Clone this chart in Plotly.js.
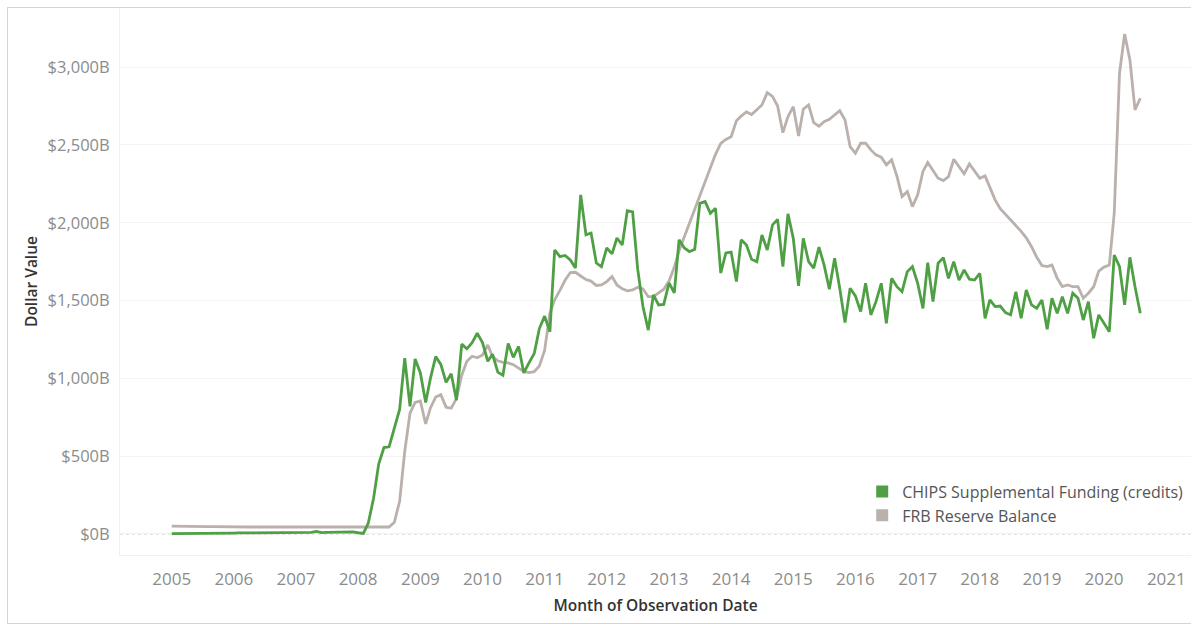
<!DOCTYPE html>
<html>
<head>
<meta charset="utf-8">
<script src="https://cdn.plot.ly/plotly-3.0.1.min.js"></script>
<style>
  html, body { margin: 0; padding: 0; background: #ffffff; }
  #wrap { position: relative; width: 1191px; height: 624px; overflow: hidden; }
  #chart { position: absolute; left: 0; top: 0; width: 1191px; height: 624px; }
  #frame { position: absolute; left: 7px; top: 7px; width: 1200px; height: 615px;
           border: 1px solid #d4d4d4; pointer-events: none; }
</style>
</head>
<body>
<div id="wrap">
  <div id="chart"></div>
  <div id="frame"></div>
</div>
<script>
// Series start month and monthly values (billions of dollars), Jan 2005 .. Aug 2020
const startYear = 2005;
const startMonth = 1;

const seriesNames = ["CHIPS Supplemental Funding (credits)", "FRB Reserve Balance"];
const seriesColors = ["#4fa044", "#bab0ac"];

const chipsCredits = [
  2,2,3,3,3,4,4,4,5,5,5,6,
  6,7,7,6,6,6,7,7,7,8,8,8,
  8,9,9,10,17,9,10,11,12,14,15,13,
  8,4,70,230,450,555,560,680,800,1130,820,1125,
  1035,845,1000,1140,1090,975,1030,860,1220,1190,1230,1290,
  1230,1110,1155,1040,1020,1225,1135,1205,1035,1100,1160,1320,
  1400,1300,1825,1782,1790,1761,1710,2179,1922,1934,1741,1718,
  1838,1800,1902,1857,2078,2070,1700,1460,1310,1536,1472,1475,
  1613,1549,1890,1838,1814,1830,2125,2136,2061,2093,1677,1806,
  1812,1622,1890,1857,1765,1750,1922,1825,1986,2022,1718,2057,
  1900,1594,1900,1750,1708,1843,1729,1573,1772,1579,1358,1579,
  1530,1429,1611,1408,1493,1611,1354,1643,1589,1557,1686,1718,
  1611,1450,1744,1493,1740,1776,1643,1750,1632,1697,1637,1632,
  1675,1386,1504,1461,1465,1422,1408,1557,1386,1568,1472,1450,
  1504,1316,1515,1418,1525,1418,1547,1515,1375,1493,1258,1408,
  1354,1300,1793,1718,1472,1778,1589,1418
];

const frbReserve = [
  50,49,49,48,48,48,47,47,47,46,46,46,
  46,46,45,45,45,45,44,44,45,45,44,44,
  44,43,43,44,44,44,43,43,43,44,44,44,
  44,44,44,44,45,45,45,75,210,530,776,845,
  855,707,810,880,895,815,808,870,1020,1110,1142,1132,
  1150,1215,1140,1113,1103,1099,1088,1066,1045,1037,1043,1080,
  1180,1420,1505,1565,1630,1680,1682,1658,1635,1625,1597,1600,
  1622,1655,1600,1575,1562,1568,1585,1575,1525,1525,1547,1573,
  1625,1715,1820,1910,1990,2080,2170,2260,2350,2440,2510,2535,
  2553,2655,2685,2712,2695,2725,2757,2836,2812,2750,2579,2682,
  2746,2558,2730,2757,2644,2620,2650,2665,2693,2720,2661,2489,
  2447,2511,2511,2468,2436,2421,2372,2404,2300,2168,2200,2104,
  2179,2330,2387,2339,2286,2271,2296,2408,2361,2314,2378,2329,
  2286,2301,2222,2147,2090,2055,2020,1985,1945,1903,1846,1780,
  1725,1718,1728,1643,1590,1600,1589,1589,1515,1547,1589,1690,
  1715,1728,2061,2961,3213,3046,2725,2800
];

const yTickVals = [0, 500, 1000, 1500, 2000, 2500, 3000];
const yTickText = ["$0B", "$500B", "$1,000B", "$1,500B", "$2,000B", "$2,500B", "$3,000B"];

function monthDates(n) {
  const out = [];
  for (let i = 0; i < n; i++) {
    const y = startYear + Math.floor((startMonth - 1 + i) / 12);
    const m = ((startMonth - 1 + i) % 12) + 1;
    out.push(y + "-" + String(m).padStart(2, "0") + "-01");
  }
  return out;
}

const dates = monthDates(chipsCredits.length);
const FONT = "Open Sans, Noto Sans, sans-serif";

const traces = [
  { type: "scatter", mode: "lines", x: dates, y: frbReserve, name: seriesNames[1],
    line: { color: seriesColors[1], width: 2.8 }, showlegend: false, legendgroup: "frb",
    hovertemplate: "%{x|%b %Y}: $%{y:,}B<extra></extra>" },
  { type: "scatter", mode: "lines", x: dates, y: chipsCredits, name: seriesNames[0],
    line: { color: seriesColors[0], width: 2.8 }, showlegend: false, legendgroup: "chips",
    hovertemplate: "%{x|%b %Y}: $%{y:,}B<extra></extra>" },
  // legend swatches (square keys as in the original)
  { type: "bar", x: [null], y: [null], name: seriesNames[0], marker: { color: seriesColors[0] },
    showlegend: true, legendgroup: "chips", hoverinfo: "skip" },
  { type: "bar", x: [null], y: [null], name: seriesNames[1], marker: { color: seriesColors[1] },
    showlegend: true, legendgroup: "frb", hoverinfo: "skip" }
];

const layout = {
  width: 1191, height: 624,
  margin: { l: 120, r: 0, t: 8, b: 69, autoexpand: false },
  paper_bgcolor: "#ffffff", plot_bgcolor: "#ffffff",
  font: { family: FONT, color: "#555555", size: 15 },
  showlegend: true,
  legend: {
    x: 0.693, y: 0.147, xanchor: "left", yanchor: "top",
    bgcolor: "rgba(0,0,0,0)", font: { family: FONT, size: 16, color: "#555555" },
    tracegroupgap: 0, itemclick: false, itemdoubleclick: false, traceorder: "normal"
  },
  xaxis: {
    type: "date",
    range: ["2004-03-03", "2021-05-26"],
    dtick: "M12", tick0: "2005-01-01", tickformat: "%Y",
    ticks: "", showgrid: false, zeroline: false,
    showline: true, linecolor: "#f0f0f0", linewidth: 1, mirror: true,
    tickfont: { family: FONT, size: 17, color: "#8c8c8c" },
    ticklabelstandoff: 9,
    title: { text: "Month of Observation Date", standoff: 10,
             font: { family: FONT, size: 15.5, color: "#333333", weight: 600 } }
  },
  yaxis: {
    range: [-135, 3380],
    tickvals: yTickVals, ticktext: yTickText,
    ticks: "", showgrid: true, gridcolor: "#f3f3f3", gridwidth: 1, zeroline: false,
    showline: true, linecolor: "#f0f0f0", linewidth: 1, mirror: true,
    tickfont: { family: FONT, size: 16.5, color: "#8c8c8c" },
    ticklabelstandoff: 6,
    title: { text: "Dollar Value", standoff: 6,
             font: { family: FONT, size: 15.5, color: "#333333", weight: 600 } }
  },
  shapes: [
    { type: "line", xref: "paper", yref: "y", x0: 0, x1: 1, y0: 0, y1: 0,
      line: { color: "#c8c8c8", width: 1, dash: "dot" }, layer: "below" }
  ],
  hovermode: "closest"
};

Plotly.newPlot("chart", traces, layout, { displayModeBar: false, staticPlot: false });
</script>
</body>
</html>
